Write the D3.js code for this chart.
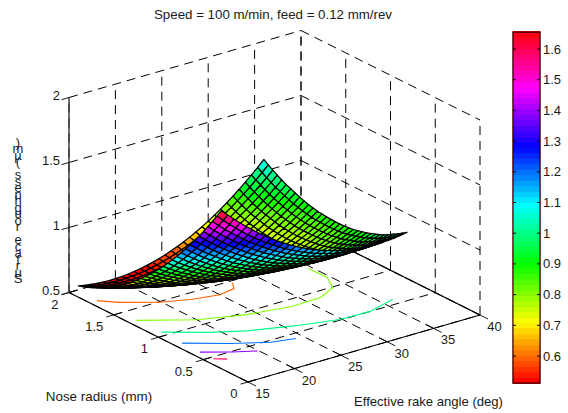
<!DOCTYPE html>
<html><head><meta charset="utf-8"><script src="https://cdn.jsdelivr.net/npm/d3@7"></script>
<style>body{margin:0;background:#fff}text{font-family:"Liberation Sans",Arial,sans-serif;fill:#1a1a1a}</style></head><body>
<svg id="c" width="568" height="413"></svg>
<script>
const xTicks=[15,20,25,30,35,40], yTicks=[0,0.5,1,1.5,2], zTicks=[0.5,1,1.5,2], cbTicks=[0.6,0.7,0.8,0.9,1,1.1,1.2,1.3,1.4,1.5,1.6];
const titleText="Speed = 100 m/min, feed = 0.12 mm/rev", xLabel="Effective rake angle (deg)", yLabel="Nose radius (mm)", zLabel="Surface roughness (µm)";
const rakeAngles=[16,16.667,17.333,18,18.667,19.333,20,20.667,21.333,22,22.667,23.333,24,24.667,25.333,26,26.667,27.333,28,28.667,29.333,30,30.667,31.333,32,32.667,33.333,34,34.667,35.333,36];
const noseRadii=[.4,.45,.5,.55,.6,.65,.7,.75,.8,.85,.9,.95,1,1.05,1.1,1.15,1.2,1.25,1.3,1.35,1.4,1.45,1.5,1.55,1.6,1.65,1.7,1.75,1.8,1.85,1.9,1.95,2];
// roughness in thousandths of a micrometre: one row per rake angle, one column per nose radius
const roughnessMilli=[
[1660,1601,1543,1486,1431,1378,1326,1276,1228,1181,1135,1091,1049,1008,969,931,895,861,828,796,767,738,712,686,663,641,620,602,584,568,554,542,531],
[1613,1555,1498,1442,1389,1337,1286,1237,1190,1144,1100,1057,1016,976,938,902,867,834,802,772,743,716,690,667,644,623,604,586,570,556,543,531,521],
[1568,1510,1455,1401,1348,1297,1248,1200,1154,1110,1066,1025,985,946,910,874,841,809,778,749,722,696,671,648,627,608,590,573,558,545,533,523,514],
[1524,1468,1414,1361,1310,1260,1212,1165,1120,1077,1035,995,956,919,883,849,816,785,756,728,702,677,654,632,612,594,577,562,548,536,525,516,508],
[1483,1428,1375,1323,1273,1224,1177,1132,1088,1046,1005,966,929,892,858,825,794,764,736,709,684,660,639,618,599,582,566,552,540,529,519,511,505],
[1443,1389,1338,1287,1238,1191,1145,1101,1058,1017,978,940,903,868,835,803,773,745,718,692,668,646,625,606,588,572,558,545,533,523,515,509,503],
[1405,1353,1302,1253,1205,1159,1114,1071,1030,990,952,915,880,846,814,784,755,727,701,677,654,633,614,596,579,564,551,539,529,520,513,508,504],
[1370,1319,1269,1221,1174,1129,1086,1044,1004,965,928,892,858,826,795,766,738,712,687,664,642,622,604,587,572,558,546,535,526,519,513,509,506],
[1336,1286,1238,1191,1145,1101,1059,1019,980,942,906,872,839,807,778,750,723,698,675,652,632,613,596,581,567,554,543,534,526,520,515,512,510],
[1304,1255,1208,1162,1118,1075,1034,995,957,921,886,853,821,791,763,736,710,687,664,643,624,607,591,576,563,552,542,534,527,522,519,517,517],
[1274,1227,1181,1136,1093,1051,1012,973,937,902,868,836,805,776,749,723,699,677,656,636,618,601,587,573,562,552,543,536,530,527,524,524,525],
[1246,1200,1155,1112,1070,1029,991,954,918,884,852,821,792,764,738,713,690,669,649,630,614,598,585,573,562,554,546,540,536,533,532,533,535],
[1220,1175,1131,1089,1048,1009,972,936,902,869,838,808,780,753,728,705,683,663,644,627,611,597,585,574,565,557,551,546,543,541,541,543,546],
[1196,1152,1110,1069,1029,991,955,920,887,856,826,797,770,744,721,699,678,659,642,625,611,598,587,577,569,563,558,554,552,552,553,556,560],
[1174,1131,1090,1050,1011,975,940,906,874,844,815,788,762,738,715,694,675,657,641,626,612,601,591,582,576,570,567,563,563,564,566,571,576],
[1154,1112,1072,1033,996,960,926,894,864,835,807,781,756,733,712,692,674,657,642,628,616,605,597,589,584,580,577,575,576,578,582,587,594],
[1135,1095,1056,1019,982,948,915,884,855,827,801,775,752,730,710,691,674,659,645,632,621,612,604,598,594,591,590,590,591,594,599,606,614],
[1119,1080,1042,1006,971,937,906,876,848,821,796,772,749,729,710,693,677,663,650,638,628,620,614,609,606,604,604,605,607,612,618,625,635],
[1104,1066,1030,995,961,929,899,870,843,817,794,770,749,730,712,696,682,669,657,646,638,631,626,622,620,620,621,623,626,632,639,648,658],
[1092,1055,1020,986,953,922,893,866,840,816,793,771,751,733,716,701,688,676,666,656,649,643,639,637,636,637,639,642,647,653,662,672,684],
[1081,1046,1012,979,947,917,890,863,839,816,794,773,754,737,722,708,696,686,677,668,662,657,655,653,654,656,659,663,669,677,687,698,711],
[1072,1038,1005,974,943,914,888,863,840,818,797,778,760,744,730,718,707,697,689,682,677,674,672,672,674,677,681,687,694,703,714,726,740],
[1066,1032,1001,971,941,914,888,864,842,822,802,784,767,753,740,729,719,711,704,698,694,692,691,693,695,700,706,712,720,731,743,756,772],
[1061,1029,999,970,941,915,891,868,847,827,810,792,777,763,752,742,733,726,721,716,713,712,713,715,719,725,732,739,749,760,773,788,805],
[1058,1027,998,970,943,918,895,873,854,835,819,802,788,776,765,756,749,743,739,735,733,734,736,739,745,751,760,768,779,792,806,822,840],
[1057,1027,999,973,947,923,901,881,862,845,829,814,801,790,781,773,767,763,759,757,756,758,761,766,772,780,790,799,811,825,841,858,877],
[1058,1029,1003,977,952,929,909,890,872,857,842,828,816,806,798,792,787,784,782,780,781,784,788,794,802,811,821,832,845,860,877,896,916],
[1061,1034,1008,984,960,938,919,901,885,870,857,844,833,825,818,813,809,807,806,806,807,811,817,824,833,843,855,867,881,898,916,935,957],
[1066,1040,1015,992,970,949,931,914,899,886,874,862,852,845,839,835,833,832,832,833,836,841,848,856,866,878,891,904,919,937,956,977,999],
[1072,1047,1024,1003,981,961,945,929,915,903,892,882,873,867,863,860,858,859,860,862,866,873,881,890,901,914,928,943,959,978,998,1021,1044],
[1081,1057,1035,1015,995,976,960,946,934,922,913,904,896,891,888,886,886,888,890,894,899,906,915,926,939,953,968,983,1001,1021,1043,1066,1091]];
const contours=[
 {level:0.6,pts:[[15.8,1.77],[17,1.66],[19.9,1.49],[22.5,1.4],[25,1.35],[26.8,1.38],[27.5,1.47]]},
 {level:0.8,pts:[[15.8,1.33],[20,1.09],[24.1,.96],[28.4,.89],[31.5,.9],[33.7,.99],[34.7,1.16],[34.6,1.36]]},
 {level:1.0,pts:[[15.9,1.06],[19,.87],[21.9,.73],[26,.6],[29.8,.51],[33,.5],[36.2,.58]]},
 {level:1.2,pts:[[15.8,.82],[19,.62],[22,.47],[24.2,.42]]},
 {level:1.4,pts:[[15.8,.62],[18,.49],[19.9,.40]]},
 {level:1.6,pts:[[15.8,.47],[16.7,.41]]}];
const svg=d3.select("#c");
const U=d3.scaleLinear([15,40],[0,1]),V=d3.scaleLinear([0,2],[0,1]),W=d3.scaleLinear([0.5,2],[0,1]);
const pr=(x,y,z)=>{const u=U(x),v=V(y),w=W(z);return [248+232*u-179*v,382-67*u-89.5*v-195*w];};
const depth=(x,y,z)=>-180*U(x)-231*V(y)+167.5*W(z);
const zDomain=[0.512,1.655];
const hue=d3.scaleQuantize().domain(zDomain).range(d3.range(64).map(i=>i/64*360));
const col=z=>d3.hsl(hue(z),1,.5).formatHex();
const line=d3.line();
function seg(g,a,b,dash,sw,c){g.append("path").attr("d",line([pr(...a),pr(...b)])).attr("fill","none").attr("stroke",c||"#000").attr("stroke-width",sw||1).attr("stroke-dasharray",dash?"9,6":null);}
const g=svg.append("g");
xTicks.forEach(x=>{seg(g,[x,0,.5],[x,2,.5],1);seg(g,[x,2,.5],[x,2,2],1);});
yTicks.forEach(y=>{seg(g,[15,y,.5],[40,y,.5],1);seg(g,[40,y,.5],[40,y,2],1);});
zTicks.forEach(z=>{seg(g,[15,2,z],[40,2,z],1);seg(g,[40,2,z],[40,0,z],1);});
seg(g,[15,2,.5],[15,2,2],0,1.4,"#333");
seg(g,[15,0,.5],[15,2,.5],0,1.1);seg(g,[15,0,.5],[40,0,.5],0,1.1);seg(g,[40,0,.5],[40,2,.5],0,1.1);
xTicks.forEach(x=>seg(g,[x,-.09,.5],[x,.09,.5],0,.9));
yTicks.forEach(y=>seg(g,[14.2,y,.5],[15.8,y,.5],0,.9));
zTicks.forEach(z=>seg(g,[14.2,2,z],[15,2,z],0,.9));
contours.forEach(c=>g.append("path").attr("d",line(c.pts.map(p=>pr(p[0],p[1],.5)))).attr("fill","none").attr("stroke",col(c.level)).attr("stroke-width",1.1));
const cells=[];
for(let i=0;i<rakeAngles.length-1;i++)for(let j=0;j<noseRadii.length-1;j++){
 const q=[[i,j],[i+1,j],[i+1,j+1],[i,j+1]].map(([a,b])=>[rakeAngles[a],noseRadii[b],roughnessMilli[a][b]/1000]);
 const m=d3.mean(q,p=>p[2]);
 cells.push({q,m,d:d3.mean(q,p=>depth(...p))});
}
cells.sort((a,b)=>a.d-b.d);
g.append("g").selectAll("path").data(cells).join("path").attr("d",c=>line(c.q.map(p=>pr(...p)))+"Z").attr("fill",c=>col(c.m)).attr("stroke","#000").attr("stroke-width",1.25).attr("stroke-linejoin","round");
const t=(x,y,s,a,size)=>svg.append("text").attr("x",x).attr("y",y).attr("text-anchor",a||"middle").attr("font-size",size||13).text(s);
zTicks.forEach(z=>{const p=pr(15,2,z);t(60,p[1]+2.5,z,"end");});
yTicks.forEach(y=>{const p=pr(15,y,.5);t(p[0]-10.5,p[1]+16,y,"end");});
xTicks.forEach(x=>{const p=pr(x,0,.5);t(p[0]+14.5,p[1]+16,x);});
t(273,19,titleText,"middle",13.3);
t(428.5,406,xLabel,"middle",13.1);t(99,401,yLabel,"middle",13.4);
const zc=Array.from(zLabel);
svg.append("text").attr("x",zc.map(()=>18).join(" ")).attr("y",zc.map((_,i)=>283-i*6.5).join(" ")).attr("text-anchor","middle").attr("font-size",13).text(zLabel);
const cb=d3.scaleLinear([0.6,1.6],[356,49]);
const cg=svg.append("g");
const steps=d3.range(64);
const edge=d3.scaleLinear([0,64],zDomain);
cg.append("rect").attr("x",512.5).attr("y",31).attr("width",28).attr("height",353).attr("fill","#ff0000");
cg.selectAll("rect.b").data(steps).join("rect").attr("class","b").attr("x",513).attr("width",27).attr("y",i=>cb(edge(i+1))).attr("height",i=>cb(edge(i))-cb(edge(i+1))+.5).attr("fill",i=>d3.hsl(i/64*360,1,.5).formatHex());
cg.append("rect").attr("x",513).attr("y",cb(zDomain[1])).attr("width",27).attr("height",cb(zDomain[0])-cb(zDomain[1])).attr("fill","none").attr("stroke","#000");
cbTicks.forEach(v=>{const y=cb(v);cg.append("path").attr("d",line([[513,y],[516,y]])).attr("stroke","#000");cg.append("path").attr("d",line([[537,y],[540,y]])).attr("stroke","#000");t(543,y+4.5,v,"start");});
</script></body></html>
